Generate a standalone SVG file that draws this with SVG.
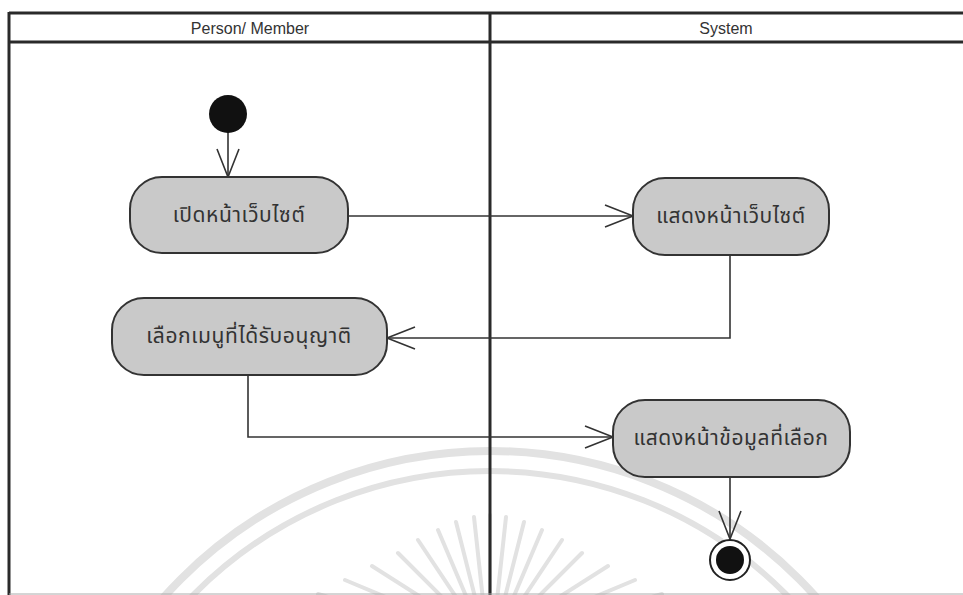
<svg xmlns="http://www.w3.org/2000/svg" width="963" height="595" viewBox="0 0 963 595">
  <defs>
    <marker id="open" markerUnits="userSpaceOnUse" markerWidth="34" markerHeight="30" refX="30" refY="14" orient="auto" overflow="visible">
      <path d="M2,3 L30,14 L2,25" fill="none" stroke="#333" stroke-width="1.6"/>
    </marker>
  </defs>
  <style>
    .frame { stroke: #2a2a2a; stroke-width: 3; fill: none; }
    .lane { font-family: "Liberation Sans", Arial, sans-serif; font-size: 16px; fill: #333; text-anchor: middle; }
    .act rect { fill: #c9c9c9; stroke: #333; stroke-width: 2; }
    .act text { font-family: "Noto Sans Thai", "Tlwg Typo", "Loma", "Garuda", "DejaVu Sans", sans-serif; font-size: 21px; letter-spacing: 0.6px; fill: #333; text-anchor: middle; dominant-baseline: central; }
    .flow { stroke: #333; stroke-width: 1.6; fill: none; marker-end: url(#open); }
    .wm { stroke: #e2e2e2; fill: none; }
  </style>

  <rect width="963" height="595" fill="#fff"/>

  <!-- faint seal in the background -->
  <g id="seal" class="wm">
    <circle cx="490" cy="888" r="437" stroke-width="8"/>
    <circle cx="490" cy="888" r="417" stroke-width="6"/>
    <g stroke-width="4" stroke-linecap="round">
      <line x1="490" y1="600" x2="490" y2="515"/>
      <line x1="483" y1="600" x2="474" y2="517"/>
      <line x1="497" y1="600" x2="506" y2="517"/>
      <line x1="476" y1="601" x2="456" y2="522"/>
      <line x1="504" y1="601" x2="524" y2="522"/>
      <line x1="469" y1="603" x2="438" y2="530"/>
      <line x1="511" y1="603" x2="542" y2="530"/>
      <line x1="462" y1="606" x2="418" y2="540"/>
      <line x1="518" y1="606" x2="562" y2="540"/>
      <line x1="455" y1="610" x2="398" y2="553"/>
      <line x1="525" y1="610" x2="582" y2="553"/>
      <line x1="449" y1="615" x2="372" y2="566"/>
      <line x1="531" y1="615" x2="608" y2="566"/>
      <line x1="443" y1="621" x2="345" y2="580"/>
      <line x1="537" y1="621" x2="635" y2="580"/>
      <line x1="438" y1="628" x2="318" y2="594"/>
      <line x1="542" y1="628" x2="662" y2="594"/>
    </g>
  </g>

  <!-- swimlane frame -->
  <g id="lanes">
    <line class="frame" x1="9" y1="13" x2="963" y2="13"/>
    <line class="frame" x1="9" y1="42" x2="963" y2="42"/>
    <line class="frame" x1="9" y1="12" x2="9" y2="595"/>
    <line class="frame" x1="490" y1="12" x2="490" y2="595"/>
    <line x1="9" y1="594" x2="963" y2="594" stroke="#aaa" stroke-width="1"/>
    <text class="lane" x="250" y="34">Person/ Member</text>
    <text class="lane" x="726" y="34">System</text>
  </g>

  <!-- connectors -->
  <g id="connectors">
    <line class="flow" x1="228" y1="132" x2="228" y2="177"/>
    <line class="flow" x1="348" y1="216" x2="633" y2="216"/>
    <polyline class="flow" points="730,255 730,338 387,338"/>
    <polyline class="flow" points="248,375 248,437 613,437"/>
    <line class="flow" x1="730" y1="477" x2="730" y2="539"/>
  </g>

  <g id="start">
    <circle cx="228" cy="114" r="19" fill="#111"/>
  </g>

  <g id="open-site" class="act">
    <rect x="130" y="177" width="218" height="76" rx="32"/>
    <text x="239" y="215">เปิดหน้าเว็บไซต์</text>
  </g>

  <g id="show-site" class="act">
    <rect x="633" y="178" width="196" height="77" rx="32"/>
    <text x="731" y="216">แสดงหน้าเว็บไซต์</text>
  </g>

  <g id="choose-menu" class="act">
    <rect x="112" y="298" width="275" height="77" rx="32"/>
    <text x="249" y="336">เลือกเมนูที่ได้รับอนุญาติ</text>
  </g>

  <g id="show-data" class="act">
    <rect x="613" y="400" width="237" height="77" rx="32"/>
    <text x="731" y="438">แสดงหน้าข้อมูลที่เลือก</text>
  </g>

  <g id="end">
    <circle cx="730" cy="560" r="20" fill="#fff" stroke="#222" stroke-width="2"/>
    <circle cx="730" cy="560" r="14" fill="#111"/>
  </g>
</svg>
